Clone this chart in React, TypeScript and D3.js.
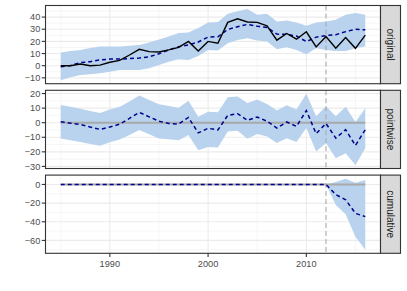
import React, { useRef, useEffect } from "react";
import * as d3 from "d3";

// values (CausalImpact-style plot)
const years = [
  1985, 1986, 1987, 1988, 1989, 1990, 1991, 1992, 1993, 1994, 1995, 1996, 1997, 1998, 1999, 2000,
  2001, 2002, 2003, 2004, 2005, 2006, 2007, 2008, 2009, 2010, 2011, 2012, 2013, 2014, 2015, 2016,
];
const observed = [
  0, 0, 1.4, 0, 0.5, 2.8, 4.4, 8.8, 13.5, 11.6, 11.3, 13, 15, 20, 12, 20,
  18.5, 35.6, 38.6, 36, 35.6, 32.8, 21, 26.5, 21.8, 27.9, 15.4, 24, 14.3, 23.2, 14.3, 25.1,
];
const predicted = [
  -0.8, 0.2, 2.5, 3.3, 4.8, 5.4, 5.4, 5.9, 6.3, 7.3, 9.8, 13, 15.5, 17, 19.5, 23.6,
  23.8, 29.8, 32, 34, 32.5, 31.4, 26, 25.8, 24.4, 19.8, 23.5, 24.8, 25.5, 28, 30, 29.5,
];
const predLower = [
  -11.9, -9.5, -7.7, -7, -6.3, -5, -3.6, -3.6, -3.6, -2.2, 0.5, 3.3, 5.2, 4.7, 8, 13,
  12.4, 18.5, 21.2, 22.6, 20.7, 19.9, 13.5, 15.2, 13, 9.4, 14.3, 13, 12.1, 12.1, 14.3, 15.7,
];
const predUpper = [
  10.8, 12, 13, 14.5, 15.7, 15.7, 15.7, 16.5, 17, 19, 21.5, 24, 26.8, 27.3, 31, 35.6,
  36, 42.8, 44.7, 46.6, 42, 42.8, 36.4, 37.2, 35.6, 32.8, 35.6, 36.4, 37.8, 42, 43.3, 42,
];
const pointwise = [
  0.7, -0.3, -1.2, -3, -4.6, -3, -1, 3, 7.1, 4, 1, -0.5, -0.9, 3.6, -7, -3.8,
  -5, 5, 6.2, 1.6, 3.9, 1, -3.7, 0.5, -2.5, 8.3, -7.5, -0.5, -10.6, -4.8, -15.6, -4.8,
];
const pointLower = [
  -10.8, -12, -13.3, -14.6, -15.9, -13.5, -11.5, -8.5, -5, -8, -10.8, -11.4, -12, -8.5, -18.9, -16.6,
  -17, -6, -5.5, -11, -7.8, -9.4, -14, -10.6, -13.3, -3.7, -19.8, -14, -24.4, -21, -29, -17.5,
];
const pointUpper = [
  12.2, 11, 9.5, 8, 6.6, 9, 11, 14.5, 18.6, 15.5, 12.6, 11.5, 10.3, 15, 4.1, 7.6,
  7.2, 17.5, 18, 13.6, 15.9, 12.9, 8.3, 12, 9, 19.8, 4.4, 11.3, 4.4, 11, 0.5, 10,
];
const cumulative = [
  0, 0, 0, 0, 0, 0, 0, 0, 0, 0, 0, 0, 0, 0, 0, 0,
  0, 0, 0, 0, 0, 0, 0, 0, 0, 0, 0, 0, -10.9, -16.4, -31, -34.5,
];
const cumLower = [
  0, 0, 0, 0, 0, 0, 0, 0, 0, 0, 0, 0, 0, 0, 0, 0,
  0, 0, 0, 0, 0, 0, 0, 0, 0, 0, 0, 0, -22, -32, -56, -70,
];
const cumUpper = [
  0, 0, 0, 0, 0, 0, 0, 0, 0, 0, 0, 0, 0, 0, 0, 0,
  0, 0, 0, 0, 0, 0, 0, 0, 0, 0, 0, 0, 2.5, 6.2, 1.8, 4.7,
];

const interventionYear = 2012;
const xMajorTicks = [1990, 2000, 2010];
const xMinorTicks = [1985, 1995, 2005, 2015];
const panelNames = ["original", "pointwise", "cumulative"];
const yTickValues = [
  [-10, 0, 10, 20, 30, 40],
  [-30, -20, -10, 0, 10, 20],
  [-60, -40, -20, 0],
];

const App = () => {
  const svgRef = useRef<SVGSVGElement>(null);

  useEffect(() => {
    if (!svgRef.current) return;

    const width = 407;
    const height = 291;
    const left = 45.5;
    const right = 380.5;
    const stripW = 20;
    const top = 5.5;
    const bottom = 253.3;
    const gap = 6.6;
    const ph = (bottom - top - 2 * gap) / 3;
    const font = "'Liberation Sans', Arial, sans-serif";

    const svg = d3.select(svgRef.current).attr("width", width).attr("height", height);
    svg.selectAll("*").remove();

    const [x0, x1] = d3.extent(years) as [number, number];
    const xPad = (x1 - x0) * 0.05;
    const x = d3.scaleLinear().domain([x0 - xPad, x1 + xPad]).range([left, right]);

    const panels = [
      { mean: predicted, lower: predLower, upper: predUpper, response: observed },
      { mean: pointwise, lower: pointLower, upper: pointUpper, response: null },
      { mean: cumulative, lower: cumLower, upper: cumUpper, response: null },
    ];

    panels.forEach((p, i) => {
      const y0 = top + i * (ph + gap);
      const all = [...p.lower, ...p.upper, ...p.mean, ...(p.response || [])];
      const [lo, hi] = d3.extent(all) as [number, number];
      const yPad = (hi - lo) * 0.05;
      const y = d3.scaleLinear().domain([lo - yPad, hi + yPad]).range([y0 + ph, y0]);

      const g = svg.append("g");
      g.append("rect")
        .attr("x", left).attr("y", y0)
        .attr("width", right - left).attr("height", ph)
        .attr("fill", "#fff");

      // grid: minor then major
      const ticks = yTickValues[i];
      const step = ticks[1] - ticks[0];
      const yMinor = [ticks[0] - step / 2, ...ticks.map((t) => t + step / 2)].filter(
        (v) => v >= y.domain()[0] && v <= y.domain()[1]
      );
      g.selectAll(".ymin").data(yMinor).join("line")
        .attr("x1", left).attr("x2", right)
        .attr("y1", (d) => y(d)).attr("y2", (d) => y(d))
        .attr("stroke", "#F0F0F0").attr("stroke-width", 0.6);
      g.selectAll(".xmin").data(xMinorTicks).join("line")
        .attr("x1", (d) => x(d)).attr("x2", (d) => x(d))
        .attr("y1", y0).attr("y2", y0 + ph)
        .attr("stroke", "#F0F0F0").attr("stroke-width", 0.6);
      g.selectAll(".ymaj").data(ticks).join("line")
        .attr("x1", left).attr("x2", right)
        .attr("y1", (d) => y(d)).attr("y2", (d) => y(d))
        .attr("stroke", "#EBEBEB").attr("stroke-width", 1.1);
      g.selectAll(".xmaj").data(xMajorTicks).join("line")
        .attr("x1", (d) => x(d)).attr("x2", (d) => x(d))
        .attr("y1", y0).attr("y2", y0 + ph)
        .attr("stroke", "#EBEBEB").attr("stroke-width", 1.1);

      // interval ribbon
      const area = d3.area<number>()
        .x((d) => x(d))
        .y0((_, j) => y(p.lower[j]))
        .y1((_, j) => y(p.upper[j]));
      g.append("path").attr("d", area(years)).attr("fill", "#B9D3EE");

      // zero baseline
      if (i > 0) {
        g.append("line")
          .attr("x1", x(x0)).attr("x2", x(x1))
          .attr("y1", y(0)).attr("y2", y(0))
          .attr("stroke", "#A9A9A9").attr("stroke-width", 2);
      }

      // intervention
      g.append("line")
        .attr("x1", x(interventionYear)).attr("x2", x(interventionYear))
        .attr("y1", y0).attr("y2", y0 + ph)
        .attr("stroke", "#A9A9A9").attr("stroke-width", 1.1)
        .attr("stroke-dasharray", "5,3");

      const line = (vals: number[]) =>
        d3.line<number>().x((d) => x(d)).y((_, j) => y(vals[j]))(years);

      g.append("path").attr("d", line(p.mean))
        .attr("fill", "none").attr("stroke", "#00008B")
        .attr("stroke-width", 1.5).attr("stroke-dasharray", "4,3");

      if (p.response) {
        g.append("path").attr("d", line(p.response))
          .attr("fill", "none").attr("stroke", "#000")
          .attr("stroke-width", 1.4);
      }

      g.append("rect")
        .attr("x", left).attr("y", y0)
        .attr("width", right - left).attr("height", ph)
        .attr("fill", "none").attr("stroke", "#333").attr("stroke-width", 1.1);

      // y axis
      const yAxis = g.append("g");
      yAxis.selectAll("line").data(ticks).join("line")
        .attr("x1", left - 3.7).attr("x2", left)
        .attr("y1", (d) => y(d)).attr("y2", (d) => y(d))
        .attr("stroke", "#333").attr("stroke-width", 1.1);
      yAxis.selectAll("text").data(ticks).join("text")
        .attr("x", left - 5.2).attr("y", (d) => y(d)).attr("dy", "0.35em")
        .attr("text-anchor", "end")
        .attr("font-family", font).attr("font-size", 9.2).attr("fill", "#4D4D4D")
        .text((d) => (d < 0 ? "\u2212" + Math.abs(d) : String(d)));

      // strip
      g.append("rect")
        .attr("x", right).attr("y", y0)
        .attr("width", stripW).attr("height", ph)
        .attr("fill", "#D9D9D9").attr("stroke", "#333").attr("stroke-width", 1.1);
      g.append("text")
        .attr("transform", `translate(${right + stripW / 2},${y0 + ph / 2}) rotate(90)`)
        .attr("text-anchor", "middle").attr("dy", "0.35em")
        .attr("font-family", font).attr("font-size", 10).attr("fill", "#1A1A1A")
        .text(panelNames[i]);
    });

    // x axis under the last panel
    const xAxis = svg.append("g");
    xAxis.selectAll("line").data(xMajorTicks).join("line")
      .attr("x1", (d) => x(d)).attr("x2", (d) => x(d))
      .attr("y1", bottom).attr("y2", bottom + 3.7)
      .attr("stroke", "#333").attr("stroke-width", 1.1);
    xAxis.selectAll("text").data(xMajorTicks).join("text")
      .attr("x", (d) => x(d)).attr("y", bottom + 13.5)
      .attr("text-anchor", "middle")
      .attr("font-family", font).attr("font-size", 9.2).attr("fill", "#4D4D4D")
      .text((d) => String(d));
  }, []);

  return <svg ref={svgRef} style={{ position: "absolute", left: 0, top: 0 }}></svg>;
};

export default App;
